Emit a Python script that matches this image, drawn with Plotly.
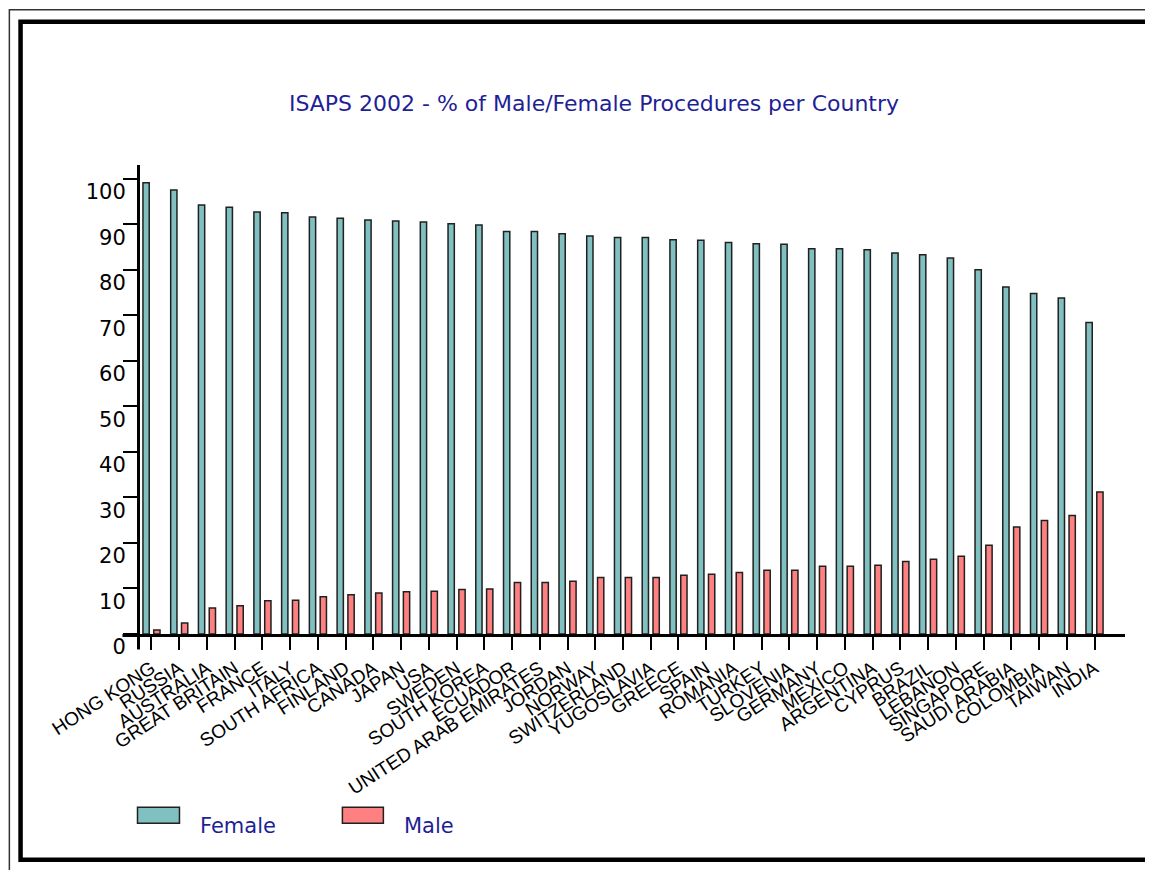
import plotly.graph_objects as go

countries = [
    "HONG KONG", "RUSSIA", "AUSTRALIA", "GREAT BRITAIN", "FRANCE", "ITALY",
    "SOUTH AFRICA", "FINLAND", "CANADA", "JAPAN", "USA", "SWEDEN",
    "SOUTH KOREA", "ECUADOR", "UNITED ARAB EMIRATES", "JORDAN", "NORWAY",
    "SWITZERLAND", "YUGOSLAVIA", "GREECE", "SPAIN", "ROMANIA", "TURKEY",
    "SLOVENIA", "GERMANY", "MEXICO", "ARGENTINA", "CYPRUS", "BRAZIL",
    "LEBANON", "SINGAPORE", "SAUDI ARABIA", "COLOMBIA", "TAIWAN", "INDIA",
]
female = [
    99.1, 97.5, 94.2, 93.7, 92.7, 92.5, 91.6, 91.3, 90.9, 90.7, 90.5, 90.1,
    89.8, 88.4, 88.4, 87.9, 87.4, 87.1, 87.1, 86.6, 86.5, 86.0, 85.7, 85.6,
    84.6, 84.6, 84.4, 83.7, 83.3, 82.6, 80.0, 76.2, 74.8, 73.8, 68.4,
]
male = [
    0.9, 2.4, 5.7, 6.2, 7.3, 7.4, 8.2, 8.6, 9.0, 9.3, 9.4, 9.8,
    9.9, 11.3, 11.3, 11.6, 12.4, 12.4, 12.4, 12.9, 13.1, 13.5, 14.0, 14.0,
    14.9, 14.9, 15.1, 15.9, 16.4, 17.1, 19.5, 23.5, 24.9, 26.0, 31.2,
]
y_ticks = list(range(0, 101, 10))

# the page body keeps its default 8px margin, so work in page pixels
# and shift everything back by that offset
OFF = 8
W, H = 1153 - OFF, 870 - OFF
L, R, T, B = 139.5, 1125, 165, 634.5  # plot area, page pixels
NAVY = "#1f1f96"
TEAL = "#80c0c0"
PINK = "#ff8080"


def px(x):
    return (x - L) / (R - L)


def py(y):
    return (B - y) / (B - T)


fig = go.Figure()
fig.add_trace(go.Bar(x=countries, y=female, name="Female",
                     marker=dict(color=TEAL, line=dict(color="#202020", width=1.5))))
fig.add_trace(go.Bar(x=countries, y=male, name="Male",
                     marker=dict(color=PINK, line=dict(color="#202020", width=1.5))))

shapes = [
    # y axis running below the x axis, x axis running left of the y axis
    dict(type="line", xref="paper", yref="paper", x0=px(138), x1=px(138),
         y0=0, y1=py(650), line=dict(color="black", width=3)),
    dict(type="line", xref="paper", yref="paper", x0=px(122), x1=px(139),
         y0=py(636), y1=py(636), line=dict(color="black", width=3)),
    # outer thin frame
    dict(type="rect", xref="paper", yref="paper", x0=px(8.8), x1=px(1190),
         y0=py(9.5), y1=py(900), line=dict(color="#333333", width=1.5)),
    # inner thick frame
    dict(type="rect", xref="paper", yref="paper", x0=px(20), x1=px(1148),
         y0=py(21.5), y1=py(860.5), line=dict(color="black", width=4.5)),
    # legend swatches
    dict(type="rect", xref="paper", yref="paper", x0=px(137), x1=px(179),
         y0=py(808), y1=py(824), fillcolor=TEAL, line=dict(color="#202020", width=1.5)),
    dict(type="rect", xref="paper", yref="paper", x0=px(342), x1=px(383),
         y0=py(808), y1=py(824), fillcolor=PINK, line=dict(color="#202020", width=1.5)),
]
annotations = [
    dict(text="Female", xref="paper", yref="paper", x=px(198), y=py(827),
         xanchor="left", yanchor="middle", showarrow=False,
         font=dict(family="DejaVu Sans", size=21, color=NAVY)),
    dict(text="Male", xref="paper", yref="paper", x=px(402), y=py(827),
         xanchor="left", yanchor="middle", showarrow=False,
         font=dict(family="DejaVu Sans", size=21, color=NAVY)),
]

fig.update_layout(
    width=W, height=H,
    margin=dict(l=L - OFF, r=1153 - R, t=T - OFF, b=870 - B, pad=0),
    paper_bgcolor="white", plot_bgcolor="white",
    showlegend=False,
    barmode="group", bargap=0.22, bargroupgap=0.42,
    title=dict(text="ISAPS 2002 - % of Male/Female Procedures per Country",
               x=(594 - OFF) / W, xref="container", xanchor="center",
               y=1 - (103 - OFF) / H, yref="container", yanchor="middle",
               font=dict(family="DejaVu Sans", size=22, color=NAVY)),
    shapes=shapes,
    annotations=annotations,
)
fig.update_xaxes(
    range=[(L - 151) / 27.75, (R - 151) / 27.75],
    showline=True, linecolor="black", linewidth=3,
    ticks="outside", ticklen=13, tickwidth=2, tickcolor="black",
    tickangle=-33, ticklabelstandoff=0,
    tickfont=dict(family="Liberation Sans", size=19, color="black"),
    showgrid=False, zeroline=False,
)
fig.update_yaxes(
    range=[0, 103], tickvals=y_ticks,
    showline=True, linecolor="black", linewidth=3,
    ticks="outside", ticklen=14, tickwidth=2, tickcolor="black",
    ticklabelshift=13, ticklabelstandoff=-7,
    tickfont=dict(family="DejaVu Sans", size=21, color="black"),
    showgrid=False, zeroline=False,
)

fig.write_html("out.html")
